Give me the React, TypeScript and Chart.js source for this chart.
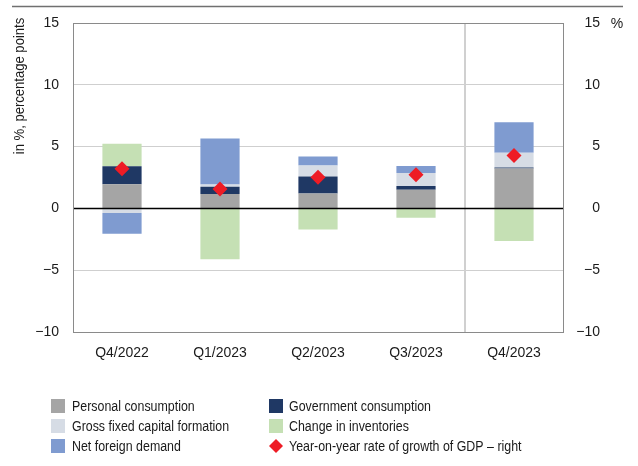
import React, { useEffect, useRef } from "react";
import { Chart, registerables } from "chart.js";

Chart.register(...registerables);

const categories = ["Q4/2022", "Q1/2023", "Q2/2023", "Q3/2023", "Q4/2023"];
const personalConsumption = [1.96, 1.16, 1.21, 1.51, 3.23];
const governmentConsumption = [1.46, 0.59, 1.37, 0.3, 0.08];
const grossFixedCapital = [-0.38, 0.19, 0.89, 1.05, 1.19];
const netForeignDemand = [-1.67, 3.72, 0.73, 0.57, 2.48];
const changeInInventories = [1.81, -4.12, -1.7, -0.75, -2.64];
const gdpGrowth = [3.2, 1.56, 2.53, 2.72, 4.28];
const yTicks = [-10, -5, 0, 5, 10, 15];

const seriesLabels = [
  "Personal consumption",
  "Government consumption",
  "Gross fixed capital formation",
  "Net foreign demand",
  "Change in inventories",
  "Year-on-year rate of growth of GDP – right",
];
const colors = ["#a5a5a5", "#1f3864", "#d6dce5", "#7f9bd0", "#c5e0b4", "#ee1c25"];
// legend grid order (row-major, 2 columns)
const legendOrder = [0, 1, 2, 4, 3, 5];

const REG = "'Liberation Sans', Arial, sans-serif";
const TEXT = "#1a1a1a";

const fmt = (v: number) => (v < 0 ? "\u2212" + Math.abs(v) : String(v));

function condensedText(ctx: any, text: string, x: number, y: number, sx: number, rot = 0) {
  ctx.save();
  ctx.translate(x, y);
  if (rot) ctx.rotate(rot);
  ctx.scale(sx, 1);
  ctx.fillText(text, 0, 0);
  ctx.restore();
}

const decorPlugin = {
  id: "decor",
  beforeDatasetsDraw(chart: any) {
    const { ctx, chartArea, scales } = chart;
    const x = scales.x;
    const sx = Math.round((x.getPixelForValue(3) + x.getPixelForValue(4)) / 2);
    ctx.save();
    ctx.strokeStyle = "#d0d0d0";
    ctx.lineWidth = 2;
    ctx.beginPath();
    ctx.moveTo(sx, chartArea.top);
    ctx.lineTo(sx, chartArea.bottom);
    ctx.stroke();
    ctx.restore();
  },
  afterDatasetsDraw(chart: any) {
    const { ctx, chartArea, scales } = chart;
    const y0 = Math.round(scales.y.getPixelForValue(0)) + 0.5;
    ctx.save();
    ctx.strokeStyle = "#000";
    ctx.lineWidth = 1.5;
    ctx.beginPath();
    ctx.moveTo(chartArea.left, y0);
    ctx.lineTo(chartArea.right, y0);
    ctx.stroke();
    ctx.restore();
  },
  afterDraw(chart: any) {
    const { ctx, chartArea } = chart;
    ctx.save();
    // plot box
    ctx.strokeStyle = "#8a8a8a";
    ctx.lineWidth = 1;
    ctx.strokeRect(
      Math.round(chartArea.left) + 0.5,
      Math.round(chartArea.top) + 0.5,
      Math.round(chartArea.right - chartArea.left),
      Math.round(chartArea.bottom - chartArea.top)
    );
    // top rule
    ctx.strokeStyle = "#707070";
    ctx.lineWidth = 1.5;
    ctx.beginPath();
    ctx.moveTo(12, 6.5);
    ctx.lineTo(623, 6.5);
    ctx.stroke();
    // left title
    ctx.fillStyle = TEXT;
    ctx.font = `15px ${REG}`;
    ctx.textAlign = "center";
    ctx.textBaseline = "middle";
    condensedText(ctx, "in %, percentage points", 20, 86, 0.87, -Math.PI / 2);
    // right unit
    ctx.font = `14px ${REG}`;
    ctx.textAlign = "center";
    ctx.fillText("%", 617, 24);
    // legend
    const rows = [406, 426, 446];
    const cols = [
      { box: 51, text: 72 },
      { box: 269, text: 289 },
    ];
    ctx.font = `15.5px ${REG}`;
    ctx.textAlign = "left";
    legendOrder.forEach((di, i) => {
      const r = Math.floor(i / 2);
      const c = i % 2;
      const cy = rows[r];
      const col = cols[c];
      ctx.fillStyle = colors[di];
      if (di === 5) {
        const cx = col.box + 7;
        ctx.beginPath();
        ctx.moveTo(cx, cy - 7);
        ctx.lineTo(cx + 7, cy);
        ctx.lineTo(cx, cy + 7);
        ctx.lineTo(cx - 7, cy);
        ctx.closePath();
        ctx.fill();
      } else {
        ctx.fillRect(col.box, cy - 7, 14, 14);
      }
      ctx.fillStyle = TEXT;
      condensedText(ctx, chart.data.datasets[di].label, col.text, cy + 1, 0.8);
    });
    ctx.restore();
  },
};

export default function App() {
  const ref = useRef<HTMLCanvasElement | null>(null);

  useEffect(() => {
    document.body.style.margin = "0";
    if (!ref.current) return;
    const barSeries = [
      personalConsumption,
      governmentConsumption,
      grossFixedCapital,
      netForeignDemand,
      changeInInventories,
    ];
    const datasets: any[] = barSeries.map((data, i) => ({
      type: "bar",
      label: seriesLabels[i],
      data,
      backgroundColor: colors[i],
      borderWidth: 0,
      barPercentage: 0.4,
      categoryPercentage: 1,
      yAxisID: "y",
      stack: "s",
      order: 2,
    }));
    datasets.push({
      type: "line",
      label: seriesLabels[5],
      data: gdpGrowth,
      yAxisID: "y2",
      showLine: false,
      pointStyle: "rectRot",
      pointRadius: 7.5,
      pointBackgroundColor: colors[5],
      pointBorderColor: colors[5],
      pointBorderWidth: 0,
      order: 1,
    });

    const chart = new Chart(ref.current, {
      type: "bar",
      data: { labels: categories, datasets },
      options: {
        animation: false,
        responsive: false,
        maintainAspectRatio: false,
        layout: { padding: { left: 0, top: 23, right: 38, bottom: 0 } },
        plugins: {
          legend: { display: false },
          tooltip: { enabled: false },
        },
        scales: {
          x: {
            stacked: true,
            grid: { display: false, drawTicks: false },
            border: { display: false },
            ticks: { color: TEXT, font: { family: REG, size: 14 }, padding: 13 },
            afterFit: (s: any) => {
              s.height = 134;
            },
          },
          y: {
            stacked: true,
            position: "left",
            min: -10,
            max: 15,
            afterBuildTicks: (s: any) => {
              s.ticks = yTicks.map((v) => ({ value: v }));
            },
            grid: {
              drawTicks: false,
              color: (c: any) => (c.tick && c.tick.value === 0 ? "rgba(0,0,0,0)" : "#cfcfcf"),
              lineWidth: 1,
            },
            border: { display: false },
            ticks: {
              color: TEXT,
              font: { family: REG, size: 14 },
              padding: 14,
              callback: (v: any) => fmt(Number(v)),
            },
            afterFit: (s: any) => {
              s.width = 73;
            },
          },
          y2: {
            position: "right",
            min: -10,
            max: 15,
            afterBuildTicks: (s: any) => {
              s.ticks = yTicks.map((v) => ({ value: v }));
            },
            grid: { display: false, drawTicks: false },
            border: { display: false },
            ticks: {
              color: TEXT,
              font: { family: REG, size: 14 },
              padding: 0,
              crossAlign: "far",
              callback: (v: any) => fmt(Number(v)),
            },
            afterFit: (s: any) => {
              s.width = 37;
            },
          },
        },
      },
      plugins: [decorPlugin],
    } as any);
    return () => chart.destroy();
  }, []);

  return (
    <div style={{ width: 638, height: 466, position: "relative" }}>
      <canvas ref={ref} width={638} height={466} style={{ display: "block" }} />
    </div>
  );
}
